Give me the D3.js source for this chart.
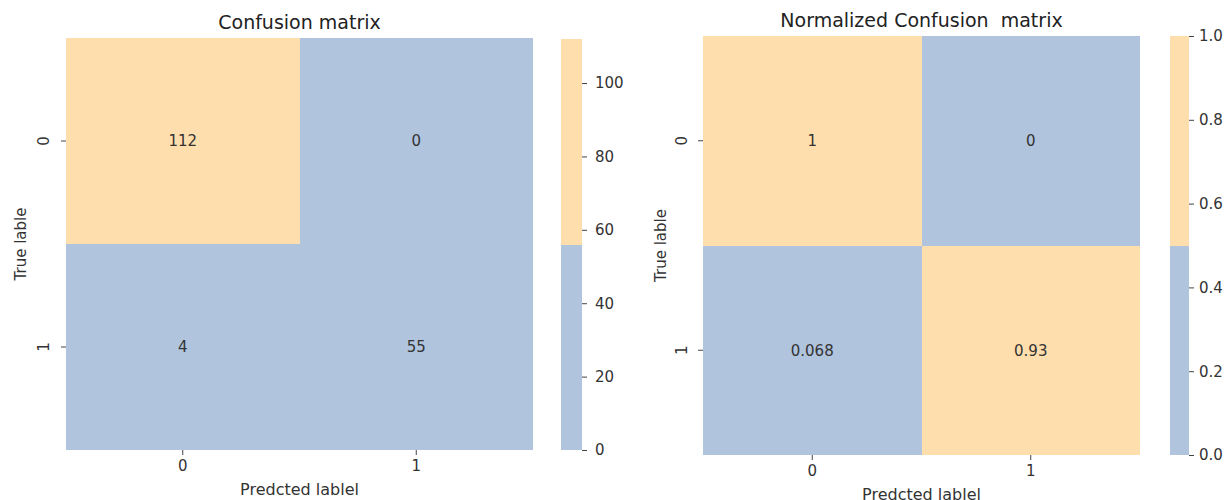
<!DOCTYPE html>
<html>
<head>
<meta charset="utf-8">
<script src="https://cdn.jsdelivr.net/npm/d3@7"></script>
<style>
  html, body { margin: 0; padding: 0; background: #fff; }
  svg { display: block; font-family: "DejaVu Sans", sans-serif; }
  .tick text { fill: #333; }
  text { white-space: pre; }
</style>
</head>
<body>
<svg id="chart" width="1229" height="500"></svg>
<script>
// Data
const classLabels = ['0', '1'];
const countMatrix = [[112, 0], [4, 55]];
const normMatrix = [[1, 0], [0.068, 0.93]];
const countLabels = [['112', '0'], ['4', '55']];
const normLabels = [['1', '0'], ['0.068', '0.93']];
const countTicks = [0, 20, 40, 60, 80, 100];
const normTicks = [0, 0.2, 0.4, 0.6, 0.8, 1.0];
const titles = ['Confusion matrix', 'Normalized Confusion  matrix'];
const xLabel = 'Predcted lablel';
const yLabel = 'True lable';

// Two-colour colormap (lightsteelblue / navajowhite)
const COLORS = ['#b0c4de', '#ffdead'];

const svg = d3.select('#chart');

function drawPanel(cfg) {
  const g = svg.append('g');
  const x = d3.scaleBand().domain(classLabels).range([cfg.left, cfg.right]).padding(0);
  const y = d3.scaleBand().domain(classLabels).range([cfg.top, cfg.bottom]).padding(0);
  const color = d3.scaleThreshold().domain([(cfg.vmin + cfg.vmax) / 2]).range(COLORS);

  const cells = [];
  cfg.matrix.forEach((row, i) => row.forEach((v, j) => cells.push({ i, j, v, label: cfg.labels[i][j] })));

  g.selectAll('rect.cell').data(cells).enter().append('rect')
    .attr('class', 'cell')
    .attr('x', d => x(classLabels[d.j]))
    .attr('y', d => y(classLabels[d.i]))
    .attr('width', x.bandwidth())
    .attr('height', y.bandwidth())
    .attr('fill', d => color(d.v))
    .attr('shape-rendering', 'crispEdges');

  g.selectAll('text.annot').data(cells).enter().append('text')
    .attr('class', 'annot')
    .attr('x', d => x(classLabels[d.j]) + x.bandwidth() / 2)
    .attr('y', d => y(classLabels[d.i]) + y.bandwidth() / 2)
    .attr('dy', '0.35em')
    .attr('text-anchor', 'middle')
    .attr('font-size', 15)
    .attr('fill', '#333')
    .text(d => d.label);

  // x axis
  const xa = g.append('g').attr('transform', `translate(0,${cfg.bottom})`)
    .call(d3.axisBottom(x).tickSize(5).tickPadding(5));
  xa.select('.domain').remove();
  xa.selectAll('.tick line').attr('stroke', '#444');
  xa.selectAll('.tick text').attr('font-size', 15).attr('font-family', 'DejaVu Sans');

  // y axis, tick labels rotated like matplotlib
  const ya = g.append('g').attr('transform', `translate(${cfg.left},0)`)
    .call(d3.axisLeft(y).tickSize(5).tickPadding(6));
  ya.select('.domain').remove();
  ya.selectAll('.tick line').attr('stroke', '#444');
  ya.selectAll('.tick text')
    .attr('font-size', 15).attr('font-family', 'DejaVu Sans')
    .attr('x', -cfg.yTickOff)
    .attr('text-anchor', 'middle')
    .attr('transform', `rotate(-90,${-cfg.yTickOff},0)`)
    .attr('dy', '0.35em');

  // titles and axis labels
  g.append('text')
    .attr('x', (cfg.left + cfg.right) / 2).attr('y', cfg.titleY)
    .attr('text-anchor', 'middle').attr('font-size', 19).attr('fill', '#222')
    .text(cfg.title);
  g.append('text')
    .attr('x', (cfg.left + cfg.right) / 2).attr('y', cfg.xLabelY)
    .attr('text-anchor', 'middle').attr('font-size', 16).attr('fill', '#333')
    .text(xLabel);
  g.append('text')
    .attr('transform', `translate(${cfg.yLabelX},${(cfg.top + cfg.bottom) / 2}) rotate(-90)`)
    .attr('text-anchor', 'middle').attr('font-size', 15).attr('fill', '#333')
    .attr('dy', '0.35em')
    .text(yLabel);

  // colorbar
  const cb = d3.scaleLinear().domain([cfg.vmin, cfg.vmax]).range([cfg.cbBottom, cfg.cbTop]);
  const mid = (cfg.vmin + cfg.vmax) / 2;
  g.append('rect')
    .attr('x', cfg.cbLeft).attr('width', cfg.cbWidth)
    .attr('y', cb(cfg.vmax)).attr('height', cb(mid) - cb(cfg.vmax))
    .attr('fill', COLORS[1]).attr('shape-rendering', 'crispEdges');
  g.append('rect')
    .attr('x', cfg.cbLeft).attr('width', cfg.cbWidth)
    .attr('y', cb(mid)).attr('height', cb(cfg.vmin) - cb(mid))
    .attr('fill', COLORS[0]).attr('shape-rendering', 'crispEdges');
  const ca = g.append('g').attr('transform', `translate(${cfg.cbLeft + cfg.cbWidth},0)`)
    .call(d3.axisRight(cb).tickValues(cfg.ticks).tickFormat(cfg.tickFormat).tickSize(5).tickPadding(cfg.cbPad));
  ca.select('.domain').remove();
  ca.selectAll('.tick line').attr('stroke', '#444');
  ca.selectAll('.tick text').attr('font-size', 15).attr('font-family', 'DejaVu Sans');
}

drawPanel({
  matrix: countMatrix, labels: countLabels, title: titles[0],
  left: 66, right: 533, top: 38, bottom: 450,
  titleY: 29, xLabelY: 495, yLabelX: 21, yTickOff: 22,
  vmin: 0, vmax: 112,
  cbLeft: 561, cbWidth: 21, cbTop: 39, cbBottom: 450, cbPad: 8,
  ticks: countTicks, tickFormat: d3.format('d')
});

drawPanel({
  matrix: normMatrix, labels: normLabels, title: titles[1],
  left: 703, right: 1140, top: 36, bottom: 455,
  titleY: 27, xLabelY: 500, yLabelX: 661, yTickOff: 21,
  vmin: 0, vmax: 1,
  cbLeft: 1170, cbWidth: 19, cbTop: 36, cbBottom: 455, cbPad: 5,
  ticks: normTicks, tickFormat: d3.format('.1f')
});
</script>
</body>
</html>
